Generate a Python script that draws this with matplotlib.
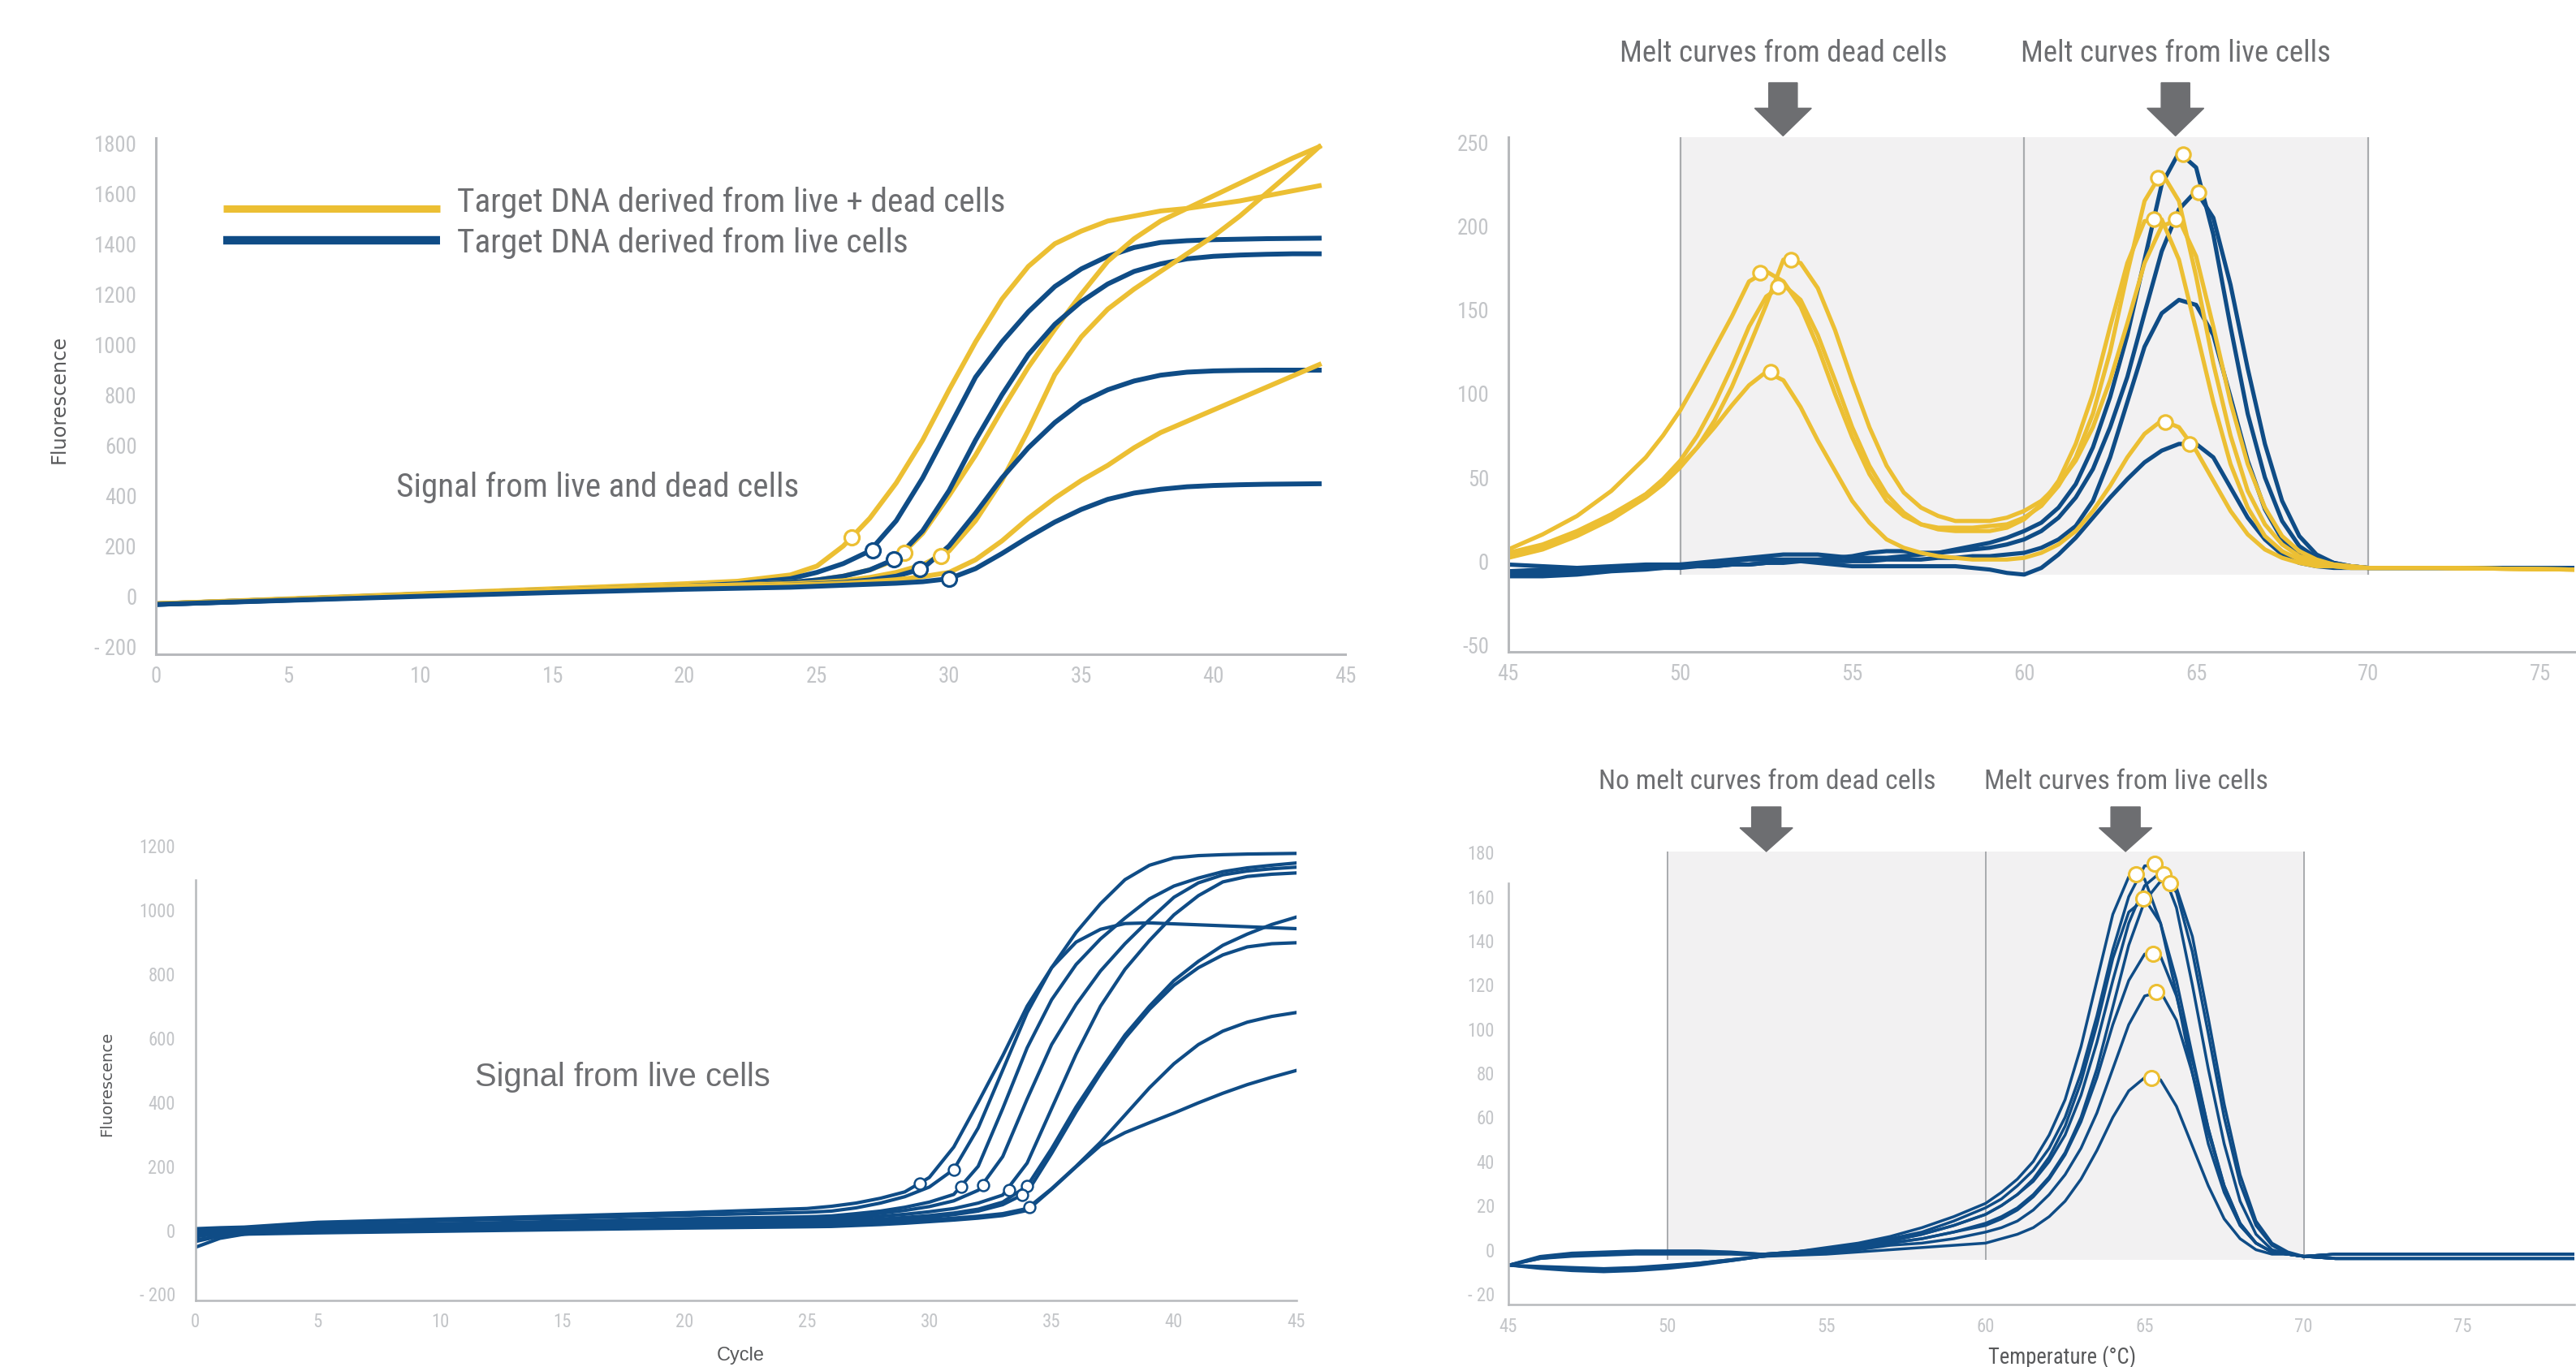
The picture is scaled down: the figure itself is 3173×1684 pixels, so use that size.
import matplotlib
matplotlib.use('Agg')
import matplotlib.pyplot as plt
from matplotlib import font_manager
from matplotlib.patches import Rectangle, FancyArrow

# the artwork uses a condensed grotesque; take the narrowest face that is installed
installed = {(f.name, f.stretch) for f in font_manager.fontManager.ttflist}
NARROW, STRETCH = 'Liberation Sans', 'normal'
for fam, st in [('Liberation Sans Narrow', 'condensed'), ('Liberation Sans Narrow', 'normal'),
                ('Roboto Condensed', 'normal'), ('Roboto Condensed', 'condensed'),
                ('DejaVu Sans', 'condensed')]:
    if (fam, st) in installed:
        NARROW, STRETCH = fam, st
        break
plt.rcParams['font.family'] = [NARROW, 'DejaVu Sans']
plt.rcParams['font.stretch'] = STRETCH

YELLOW = '#ecbf33'
BLUE = '#0f4c86'
SPINE = '#b7b9bc'
TICK = '#c3c5c8'
TEXT = '#6d6e71'
DARK = '#58595b'
SHADE = '#f2f1f2'
VLINE = '#a9abae'

# ---------------- panel 1: amplification, live + dead ----------------
p1_cycles = [0, 5, 10, 15, 20, 22, 24, 25, 26, 27, 28, 29, 30, 31, 32, 33, 34, 35,
             36, 37, 38, 39, 40, 41, 42, 43, 44]
p1_yellow_1 = [-30, -10, 10, 30, 50, 60, 85, 120, 200, 310, 450, 620, 820, 1010, 1180, 1310,
               1400, 1450, 1490, 1510, 1530, 1540, 1555, 1570, 1590, 1610, 1630]
p1_yellow_2 = [-30, -12, 8, 25, 40, 45, 55, 65, 80, 105, 145, 250, 400, 560, 740, 910,
               1060, 1200, 1330, 1420, 1490, 1540, 1590, 1640, 1690, 1740, 1785]
p1_yellow_3 = [-30, -12, 8, 25, 40, 45, 50, 55, 62, 75, 95, 125, 180, 300, 460, 660,
               880, 1030, 1140, 1220, 1290, 1360, 1430, 1510, 1600, 1690, 1785]
p1_yellow_4 = [-30, -14, 5, 22, 35, 40, 45, 48, 52, 58, 66, 78, 95, 145, 220, 310,
               390, 460, 520, 590, 650, 695, 740, 785, 830, 875, 920]
p1_blue_1 = [-30, -12, 8, 25, 40, 50, 70, 95, 130, 180, 300, 470, 670, 870, 1010, 1130,
             1230, 1300, 1350, 1385, 1405, 1412, 1416, 1418, 1420, 1421, 1422]
p1_blue_2 = [-32, -14, 5, 22, 38, 44, 55, 65, 80, 105, 150, 260, 420, 620, 800, 960,
             1080, 1170, 1240, 1290, 1320, 1340, 1350, 1355, 1358, 1360, 1360]
p1_blue_3 = [-32, -15, 3, 20, 33, 38, 45, 50, 55, 65, 80, 110, 200, 330, 470, 590,
             690, 770, 820, 855, 878, 890, 895, 897, 898, 898, 898]
p1_blue_4 = [-32, -16, 0, 15, 28, 32, 36, 40, 44, 48, 52, 58, 70, 110, 170, 235,
             295, 345, 385, 410, 425, 435, 440, 443, 445, 446, 447]
p1_ct_yellow_x = [26.3, 28.3, 29.7]
p1_ct_yellow_y = [233, 172, 160]
p1_ct_blue_x = [27.1, 27.9, 28.9, 30.0]
p1_ct_blue_y = [184, 148, 108, 70]
p1_yticks = [-200, 0, 200, 400, 600, 800, 1000, 1200, 1400, 1600, 1800]
p1_ylabels = ['- 200', '0', '200', '400', '600', '800', '1000', '1200', '1400', '1600', '1800']
p1_xticks = [0, 5, 10, 15, 20, 25, 30, 35, 40, 45]

# ---------------- panel 2: melt curves, live + dead ----------------
p2_temp = [45, 46, 47, 48, 49, 49.5, 50, 50.5, 51, 51.5, 52, 52.5, 53, 53.5, 54, 54.5,
           55, 55.5, 56, 56.5, 57, 57.5, 58, 58.5, 59, 59.5, 60, 60.5, 61, 61.5, 62,
           62.5, 63, 63.5, 64, 64.5, 65, 65.5, 66, 66.5, 67, 67.5, 68, 68.5, 69, 69.5,
           70, 71, 72, 74, 76]
p2_yellow_a = [7, 16, 27, 42, 62, 75, 90, 108, 127, 146, 167, 173, 167, 152, 128, 100, 74,
               52, 36, 27, 22, 20, 20, 20, 21, 22, 26, 33, 45, 62, 88, 125, 172, 215, 232,
               215, 170, 118, 75, 42, 22, 10, 3, 0, -2, -3, -4, -4, -4, -4.5, -5]
p2_yellow_b = [2, 7, 15, 25, 38, 46, 56, 68, 84, 104, 128, 153, 180, 178, 163, 138, 108,
               80, 57, 41, 32, 27, 24, 24, 24, 26, 30, 36, 46, 60, 80, 108, 142, 178, 200,
               204, 182, 140, 95, 58, 32, 15, 6, 1, -2, -3, -4, -4, -4, -4.5, -5]
p2_yellow_c = [3, 9, 17, 27, 40, 49, 60, 75, 94, 116, 140, 158, 165, 156, 135, 108, 80,
               57, 40, 29, 22, 19, 18, 18, 18, 20, 25, 34, 48, 70, 100, 140, 178, 203, 204,
               180, 138, 95, 58, 32, 15, 6, 1, -2, -3, -4, -4, -4, -4, -4.5, -5]
p2_yellow_e = [5, 10, 18, 28, 40, 48, 57, 68, 80, 93, 105, 113, 108, 92, 72, 54, 36,
               23, 13, 8, 5, 3, 2, 1, 1, 1, 2, 5, 10, 18, 30, 45, 62, 76, 84,
               80, 66, 48, 30, 16, 7, 2, -1, -3, -3, -4, -4, -4, -4, -4.5, -5]
p2_blue_1 = [-6, -5, -4, -3, -2, -2, -2, -1, 0, 1, 2, 3, 4, 4, 4, 3, 2, 2, 2, 3, 4, 5, 7,
             9, 11, 14, 18, 23, 32, 46, 68, 98, 135, 180, 225, 244, 235, 195, 140, 88,
             50, 24, 9, 2, -1, -3, -4, -4, -4, -4, -4]
p2_blue_2 = [-2, -3, -4, -4, -3, -3, -2, -2, -1, 0, 1, 1, 1, 1, 1, 2, 3, 5, 6, 6, 5, 5, 6,
             7, 8, 10, 13, 18, 26, 38, 55, 80, 110, 148, 185, 210, 221, 205, 165, 115,
             70, 36, 15, 4, -1, -3, -4, -4, -4, -4, -4]
p2_blue_3 = [-9, -9, -8, -6, -5, -4, -4, -3, -3, -2, -2, -1, -1, 0, 0, 0, 0, 0, 1, 1, 1,
             2, 2, 3, 3, 4, 5, 8, 13, 21, 36, 62, 95, 128, 148, 156, 153, 135, 98, 60,
             31, 13, 4, 0, -2, -3, -4, -4, -4, -4, -4]
p2_blue_4 = [-8, -7, -6, -5, -4, -4, -3, -3, -3, -2, -2, -1, 0, 0, -1, -2, -3, -3, -3, -3,
             -3, -3, -3, -4, -5, -7, -8, -4, 4, 14, 26, 38, 49, 59, 66, 70, 70, 62, 44,
             26, 13, 4, -1, -3, -4, -4, -4, -4, -4, -4, -4]
p2_peak_x = [52.33, 53.21, 52.84, 52.62, 63.89, 64.63, 65.06, 63.76, 64.40, 64.11, 64.82]
p2_peak_y = [172, 180, 164, 113, 229, 243, 220, 204, 204, 83, 70]
p2_yticks = [-50, 0, 50, 100, 150, 200, 250]
p2_ylabels = ['-50', '0', '50', '100', '150', '200', '250']
p2_xticks = [45, 50, 55, 60, 65, 70, 75]

# ---------------- panel 3: amplification, live only ----------------
p3_cycles = [0, 1, 2, 5, 10, 15, 20, 25, 26, 27, 28, 29, 30, 31, 32, 33, 34, 35, 36, 37,
             38, 39, 40, 41, 42, 43, 44, 45]
p3_curve_a = [5, 8, 10, 25, 35, 45, 55, 68, 75, 85, 100, 120, 165, 260, 400, 545, 700,
              820, 900, 940, 958, 960, 957, 954, 951, 948, 945, 942]
p3_curve_b = [-10, -5, 0, 22, 30, 38, 47, 56, 60, 70, 85, 105, 135, 190, 320, 500, 680,
              820, 930, 1020, 1095, 1140, 1163, 1170, 1173, 1175, 1176, 1177]
p3_curve_c = [-35, -18, -8, 12, 20, 28, 36, 42, 45, 52, 60, 72, 88, 112, 200, 380, 570,
              720, 830, 910, 975, 1035, 1075, 1100, 1120, 1132, 1140, 1147]
p3_curve_d = [-53, -25, -12, 5, 15, 22, 30, 37, 40, 46, 53, 62, 74, 92, 125, 230, 410,
              580, 705, 810, 895, 970, 1040, 1085, 1110, 1122, 1129, 1134]
p3_curve_e = [0, 2, 4, 15, 20, 25, 29, 32, 35, 39, 44, 50, 58, 68, 85, 110, 210, 380,
              550, 700, 815, 905, 985, 1045, 1088, 1105, 1112, 1116]
p3_curve_f = [-20, -10, -4, 8, 14, 19, 23, 26, 28, 31, 35, 40, 46, 54, 66, 88, 138, 255,
              385, 500, 610, 700, 780, 840, 890, 925, 955, 978]
p3_curve_g = [-5, -3, -1, 5, 10, 14, 18, 22, 23, 26, 30, 35, 41, 49, 60, 80, 118, 240,
              370, 490, 600, 690, 765, 820, 860, 885, 895, 898]
p3_curve_h = [-14, -10, -7, -3, 2, 8, 13, 17, 18, 21, 24, 28, 33, 38, 44, 52, 68, 130,
              200, 275, 360, 445, 520, 580, 622, 650, 668, 680]
p3_curve_i = [-30, -18, -12, -8, -3, 2, 7, 11, 12, 15, 18, 22, 27, 32, 38, 46, 62, 128,
              198, 265, 305, 336, 366, 398, 428, 455, 478, 499]
p3_ct_x = [29.6, 31.0, 31.3, 32.2, 33.25, 34.0, 33.8, 34.1]
p3_ct_y = [147, 190, 135, 140, 125, 138, 110, 72]
p3_yticks = [-200, 0, 200, 400, 600, 800, 1000, 1200]
p3_ylabels = ['- 200', '0', '200', '400', '600', '800', '1000', '1200']
p3_xticks = [0, 5, 10, 15, 20, 25, 30, 35, 40, 45]

# ---------------- panel 4: melt curves, live only ----------------
p4_temp = [45, 46, 47, 48, 49, 50, 51, 52, 53, 54, 55, 56, 57, 58, 59, 60, 60.5, 61, 61.5,
           62, 62.5, 63, 63.5, 64, 64.5, 65, 65.5, 66, 66.5, 67, 67.5, 68, 68.5, 69, 69.5,
           70, 71, 72, 74, 76, 78.5]
p4_curve_a = [-7, -3, -1.5, -1, -0.5, -0.5, -0.5, -1, -2, -1, 1, 3, 6, 10, 15, 21,
              26, 32, 40, 52, 68, 92, 122, 152, 169, 168, 148, 116, 80, 48, 26, 11, 3, -1,
              -2, -3, -4, -4, -4, -4, -4]
p4_curve_b = [-7, -4, -2.5, -2, -1.5, -1, -1, -1.5, -2, -1, 0.5, 2, 5, 8, 13, 19,
              23, 29, 36, 46, 60, 80, 106, 136, 160, 174, 174, 155, 120, 82, 48, 22, 7, 0,
              -2, -3, -2, -2, -2, -2, -2]
p4_curve_c = [-7, -8, -9, -9.5, -9, -8, -6.5, -5, -3, -1.5, 0, 2, 4, 7, 11, 16,
              20, 25, 31, 40, 52, 70, 94, 122, 148, 165, 171, 162, 135, 98, 60, 30, 11, 2,
              -2, -3, -2, -2, -2, -2, -2]
p4_curve_d = [-7, -8.5, -9.5, -10, -9.5, -8.5, -7, -5, -3, -2, -0.5, 1, 3, 5, 8, 12,
              15, 19, 25, 33, 44, 60, 82, 110, 138, 158, 167, 164, 142, 105, 66, 34, 13, 3,
              -1, -3, -4, -4, -4, -4, -4]
p4_curve_e = [-7, -3.5, -2, -1.5, -1, -1, -1, -1.5, -2, -1, 0.5, 2, 4, 7, 11, 16,
              20, 25, 32, 42, 56, 76, 102, 132, 153, 159, 148, 122, 88, 55, 28, 11, 3, -1,
              -2, -3, -2, -2, -2, -2, -2]
p4_curve_f = [-7, -7.5, -8, -8.5, -8, -7, -6, -4.5, -3, -1.5, -0.5, 1, 3, 5, 8, 11,
              14, 18, 24, 32, 43, 58, 78, 102, 122, 134, 133, 115, 86, 55, 29, 12, 3, -1,
              -2, -3, -4, -4, -4, -4, -4]
p4_curve_g = [-7, -4, -3, -2.5, -2, -2, -2, -2, -2.5, -2, -1, 0, 2, 3, 5, 8,
              10, 13, 18, 25, 34, 46, 62, 82, 102, 115, 117, 104, 80, 53, 29, 12, 3, -1,
              -2, -3, -2, -2, -2, -2, -2]
p4_curve_h = [-7, -8, -9, -9, -8.5, -7.5, -6, -4.5, -3, -2.5, -2, -1, 0, 1, 2, 3,
              5, 7, 10, 15, 22, 32, 45, 60, 72, 78, 77, 65, 47, 29, 14, 5, 0, -2,
              -2, -3, -4, -4, -4, -4, -4]
p4_peak_x = [64.74, 65.32, 65.6, 65.8, 64.97, 65.26, 65.37, 65.22]
p4_peak_y = [170, 175, 170, 166, 159, 134, 117, 78]
p4_yticks = [-20, 0, 20, 40, 60, 80, 100, 120, 140, 160, 180]
p4_ylabels = ['- 20', '0', '20', '40', '60', '80', '100', '120', '140', '160', '180']
p4_xticks = [45, 50, 55, 60, 65, 70, 75]


def style(ax, ypad, xpad, lw):
    for s in ['top', 'right']:
        ax.spines[s].set_visible(False)
    for s in ['left', 'bottom']:
        ax.spines[s].set_color(SPINE)
        ax.spines[s].set_linewidth(lw)
    ax.tick_params(axis='both', length=0, colors=TICK)
    ax.tick_params(axis='y', pad=ypad)
    ax.tick_params(axis='x', pad=xpad)


fig = plt.figure(figsize=(31.73, 16.84), dpi=100)

# ---- panel 1 ----
ax1 = fig.add_axes([0.06057, 0.5214, 0.4618, 0.3777])
yellow1 = [p1_yellow_1, p1_yellow_2, p1_yellow_3, p1_yellow_4]
blue1 = [p1_blue_1, p1_blue_2, p1_blue_3, p1_blue_4]
for y_curve, b_curve in zip(yellow1, blue1):
    ax1.plot(p1_cycles, y_curve, color=YELLOW, lw=4.3, zorder=2)
    ax1.plot(p1_cycles, b_curve, color=BLUE, lw=4.3, zorder=2)
ax1.plot(p1_ct_yellow_x, p1_ct_yellow_y, 'o', ms=13, mfc='white', mec=YELLOW, mew=2.3, zorder=4)
ax1.plot(p1_ct_blue_x, p1_ct_blue_y, 'o', ms=13, mfc='white', mec=BLUE, mew=2.3, zorder=4)
ax1.set_xlim(0, 45)
ax1.set_ylim(-230, 1820)
ax1.set_xticks(p1_xticks)
ax1.set_yticks(p1_yticks, p1_ylabels)
style(ax1, 17, 10, 2.2)
# hand-made legend
ax1.plot([2.54, 10.74], [1539, 1539], color=YELLOW, lw=6.5, solid_capstyle='butt', clip_on=False)
ax1.plot([2.54, 10.74], [1413, 1413], color=BLUE, lw=7.5, solid_capstyle='butt', clip_on=False)
t_leg1 = ax1.text(11.38, 1528, 'Target DNA derived from live + dead cells', fontsize=31,
                  color=TEXT, va='baseline', ha='left')
t_leg2 = ax1.text(11.38, 1365, 'Target DNA derived from live cells', fontsize=31,
                  color=TEXT, va='baseline', ha='left')
t_sig1 = ax1.text(9.08, 395, 'Signal from live and dead cells', fontsize=31,
                  color=TEXT, va='baseline', ha='left')
t_flu1 = fig.text(0.02294, 0.708, 'Fluorescence', rotation=90, fontsize=16, color=DARK,
                  family='DejaVu Sans', fontstretch='normal', ha='center', va='center')

# ---- panel 2 ----
ax2 = fig.add_axes([0.5855, 0.5233, 0.4139, 0.3762])
ax2.add_patch(Rectangle((50, -8), 20, 261, facecolor=SHADE, edgecolor='none', zorder=0.5))
ax2.vlines([50, 60, 70], -8, 253, color=VLINE, lw=1.6, zorder=0.6)
for curve in [p2_blue_1, p2_blue_2, p2_blue_3, p2_blue_4]:
    ax2.plot(p2_temp, curve, color=BLUE, lw=3.7, zorder=2)
for curve in [p2_yellow_a, p2_yellow_b, p2_yellow_c, p2_yellow_e]:
    ax2.plot(p2_temp, curve, color=YELLOW, lw=3.7, zorder=2)
ax2.plot(p2_peak_x, p2_peak_y, 'o', ms=12.5, mfc='white', mec=YELLOW, mew=2.3, zorder=4)
ax2.set_xlim(45, 76)
ax2.set_ylim(-54, 253)
ax2.set_xticks(p2_xticks)
ax2.set_yticks(p2_yticks, p2_ylabels)
style(ax2, 17, 10, 2.2)
for tx in [52.99, 64.4]:
    ax2.add_patch(FancyArrow(tx, 285.6, 0, -31.7, width=0.83, head_width=1.65,
                             head_length=16.5, length_includes_head=True,
                             color=TEXT, clip_on=False, zorder=5))
t_m1 = ax2.text(52.99, 303, 'Melt curves from dead cells', fontsize=28, color=TEXT,
                ha='center', va='center')
t_m2 = ax2.text(64.4, 303, 'Melt curves from live cells', fontsize=28, color=TEXT,
                ha='center', va='center')

# ---- panel 3 ----
ax3 = fig.add_axes([0.07589, 0.0487, 0.4273, 0.3324])
for curve in [p3_curve_a, p3_curve_b, p3_curve_c, p3_curve_d, p3_curve_e,
              p3_curve_f, p3_curve_g, p3_curve_h, p3_curve_i]:
    ax3.plot(p3_cycles, curve, color=BLUE, lw=3.0, zorder=2)
ax3.plot(p3_ct_x, p3_ct_y, 'o', ms=10, mfc='white', mec=BLUE, mew=1.8, zorder=4)
ax3.set_xlim(0, 45)
ax3.set_ylim(-219, 1200)
ax3.set_xticks(p3_xticks)
ax3.set_yticks(p3_yticks, p3_ylabels)
style(ax3, 18, 11, 1.8)
ax3.spines['left'].set_bounds(-219, 1093)
t_sig3 = ax3.text(11.42, 450, 'Signal from live cells', fontsize=29, color=TEXT,
                  family='Liberation Sans', fontstretch='normal', va='baseline', ha='left')
t_flu3 = fig.text(0.04144, 0.2069, 'Fluorescence', rotation=90, fontsize=14, color=DARK,
                  family='DejaVu Sans', fontstretch='normal', ha='center', va='center')
t_cyc = fig.text(0.2876, 0.0086, 'Cycle', fontsize=16, color=DARK, family='Liberation Sans',
                 fontstretch='normal', ha='center', va='center')

# ---- panel 4 ----
ax4 = fig.add_axes([0.5855, 0.04543, 0.4138, 0.3325])
ax4.add_patch(Rectangle((50, -4.5), 20, 185, facecolor=SHADE, edgecolor='none', zorder=0.5))
ax4.vlines([50, 60, 70], -4.5, 180.5, color=VLINE, lw=1.4, zorder=0.6)
for curve in [p4_curve_a, p4_curve_b, p4_curve_c, p4_curve_d,
              p4_curve_e, p4_curve_f, p4_curve_g, p4_curve_h]:
    ax4.plot(p4_temp, curve, color=BLUE, lw=2.5, zorder=2)
ax4.plot(p4_peak_x, p4_peak_y, 'o', ms=13, mfc='white', mec=YELLOW, mew=2.2, zorder=4)
ax4.set_xlim(45, 78.5)
ax4.set_ylim(-25, 181)
ax4.set_xticks(p4_xticks)
ax4.set_yticks(p4_yticks, p4_ylabels)
style(ax4, 12, 11, 1.8)
ax4.spines['left'].set_bounds(-25, 166)
for tx in [53.11, 64.4]:
    ax4.add_patch(FancyArrow(tx, 200.7, 0, -20.2, width=0.92, head_width=1.66,
                             head_length=10.7, length_includes_head=True,
                             color=TEXT, clip_on=False, zorder=5))
t_n1 = ax4.text(53.13, 212, 'No melt curves from dead cells', fontsize=26, color=TEXT,
                ha='center', va='center')
t_n2 = ax4.text(64.41, 212, 'Melt curves from live cells', fontsize=26, color=TEXT,
                ha='center', va='center')
t_temp = fig.text(0.8004, 0.0074, 'Temperature (\u00b0C)', fontsize=18, color=DARK,
                  ha='center', va='center')

# size the texts to the widths they take in the artwork (pixels)
fig.canvas.draw()
renderer = fig.canvas.get_renderer()


def fit(t, target, vertical=False):
    bb = t.get_window_extent(renderer)
    size = bb.height if vertical else bb.width
    t.set_fontsize(t.get_fontsize() * target / size)
    return t.get_fontsize()


s = fit(t_leg1, 676)
t_leg2.set_fontsize(s)
scale = s / 31.0
fit(t_sig1, 495)
fit(t_m1, 403)
t_m2.set_fontsize(t_m1.get_fontsize())
fit(t_n1, 415)
t_n2.set_fontsize(t_n1.get_fontsize())
fit(t_sig3, 364)
fit(t_temp, 182)
fit(t_cyc, 59)
fit(t_flu1, 158, vertical=True)
fit(t_flu3, 130, vertical=True)

for ax, size in [(ax1, 20), (ax2, 20), (ax3, 17), (ax4, 17)]:
    ax.tick_params(axis='both', labelsize=size * scale)

fig.savefig('out.png', dpi=100)
